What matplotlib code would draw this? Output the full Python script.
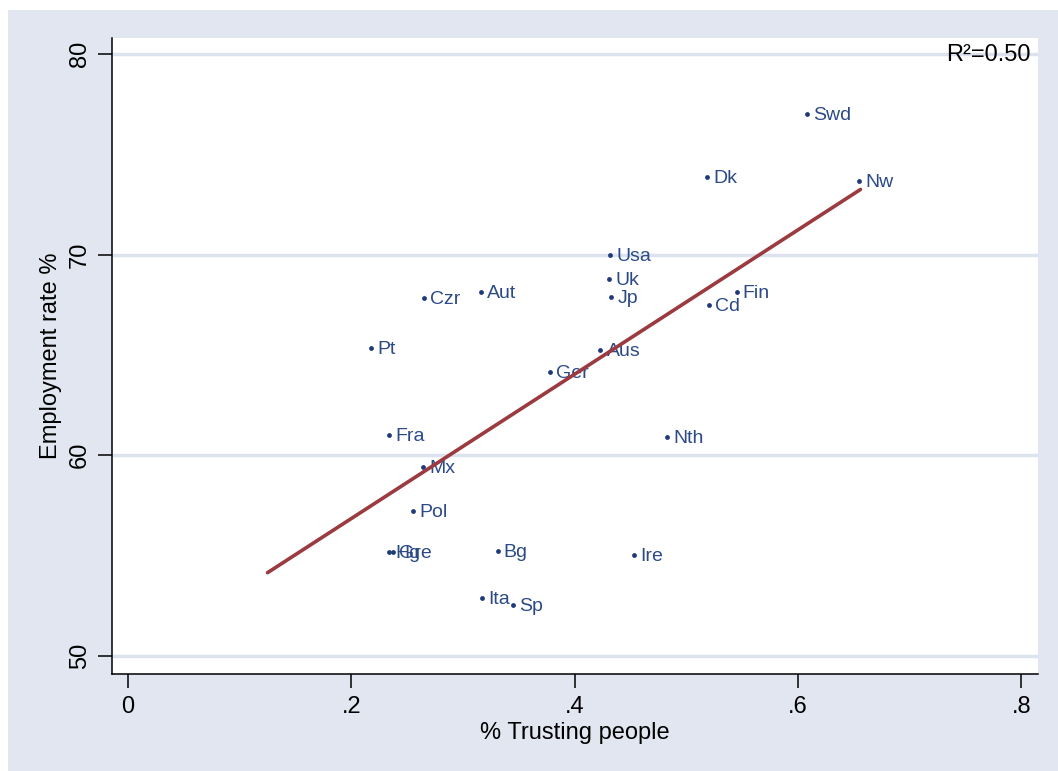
import matplotlib
matplotlib.use("Agg")
import matplotlib.pyplot as plt
from matplotlib.patches import Rectangle

countries = ["Swd", "Dk", "Nw", "Usa", "Uk", "Jp", "Fin", "Cd", "Aut", "Czr", "Pt",
             "Aus", "Ger", "Fra", "Nth", "Mx", "Pol", "Hg", "Gre", "Bg", "Ire", "Ita", "Sp"]
trust = [0.608, 0.519, 0.655, 0.432, 0.431, 0.433, 0.545, 0.520, 0.316, 0.265, 0.218,
         0.423, 0.378, 0.234, 0.483, 0.264, 0.255, 0.234, 0.237, 0.331, 0.453, 0.317, 0.345]
employment = [77.0, 73.87, 73.67, 69.98, 68.78, 67.88, 68.13, 67.48, 68.13, 67.83, 65.34,
              65.24, 64.14, 61.0, 60.9, 59.40, 57.21, 55.16, 55.16, 55.21, 55.01, 52.87, 52.52]
fit_x = [0.125, 0.656]
fit_y = [54.15, 73.25]
xticks = [0, 0.2, 0.4, 0.6, 0.8]
xticklabels = ["0", ".2", ".4", ".6", ".8"]
yticks = [50, 60, 70, 80]
r2_text = "R²=0.50"

plt.rcParams['font.family'] = ['Liberation Sans', 'DejaVu Sans']

W, H = 1058, 771
fig = plt.figure(figsize=(W / 100, H / 100), dpi=100, facecolor="white")
bg = "#E1E6F0"
fig.patches.append(Rectangle((8 / W, 0), 1 - 8 / W, 1 - 10 / H, transform=fig.transFigure,
                             facecolor=bg, edgecolor="none", zorder=-10))

ax = fig.add_axes([112 / W, 1 - 674 / H, (1038 - 112) / W, (674 - 38) / H])
ax.set_facecolor("white")
ax.set_xlim(-0.0143, 0.815)
ax.set_ylim(49.1, 80.8)

for y in yticks:
    ax.axhline(y, color="#DCE2EE", lw=2.5, zorder=0)

navy = "#1E3A78"
ax.scatter(trust, employment, s=12, color=navy, zorder=3, linewidths=0)
for c, x, y in zip(countries, trust, employment):
    ax.annotate(c, (x, y), xytext=(4.5, -1), textcoords="offset points",
                va="center", ha="left", fontsize=14, color="#2B4A86", zorder=4)

ax.plot(fit_x, fit_y, color="#9B3A3F", lw=2.6, zorder=5, solid_capstyle="round")

ax.set_xticks(xticks)
ax.set_xticklabels(xticklabels)
ax.set_yticks(yticks)
ax.set_yticklabels([str(v) for v in yticks], rotation=90, va="center")
ax.tick_params(axis="both", direction="out", length=10, width=1.1, labelsize=17,
               color="black", pad=5)
ax.tick_params(axis="x", pad=6)

for s in ["top", "right"]:
    ax.spines[s].set_visible(False)
for s in ["left", "bottom"]:
    ax.spines[s].set_linewidth(1.1)

ax.set_xlabel("% Trusting people", fontsize=17, labelpad=3)
ax.set_ylabel("Employment rate %", fontsize=17, labelpad=5)

ax.text(0.992, 0.99, r2_text, transform=ax.transAxes, ha="right", va="top", fontsize=17,
        color="black")

fig.savefig("out.png", dpi=100, facecolor=fig.get_facecolor())
